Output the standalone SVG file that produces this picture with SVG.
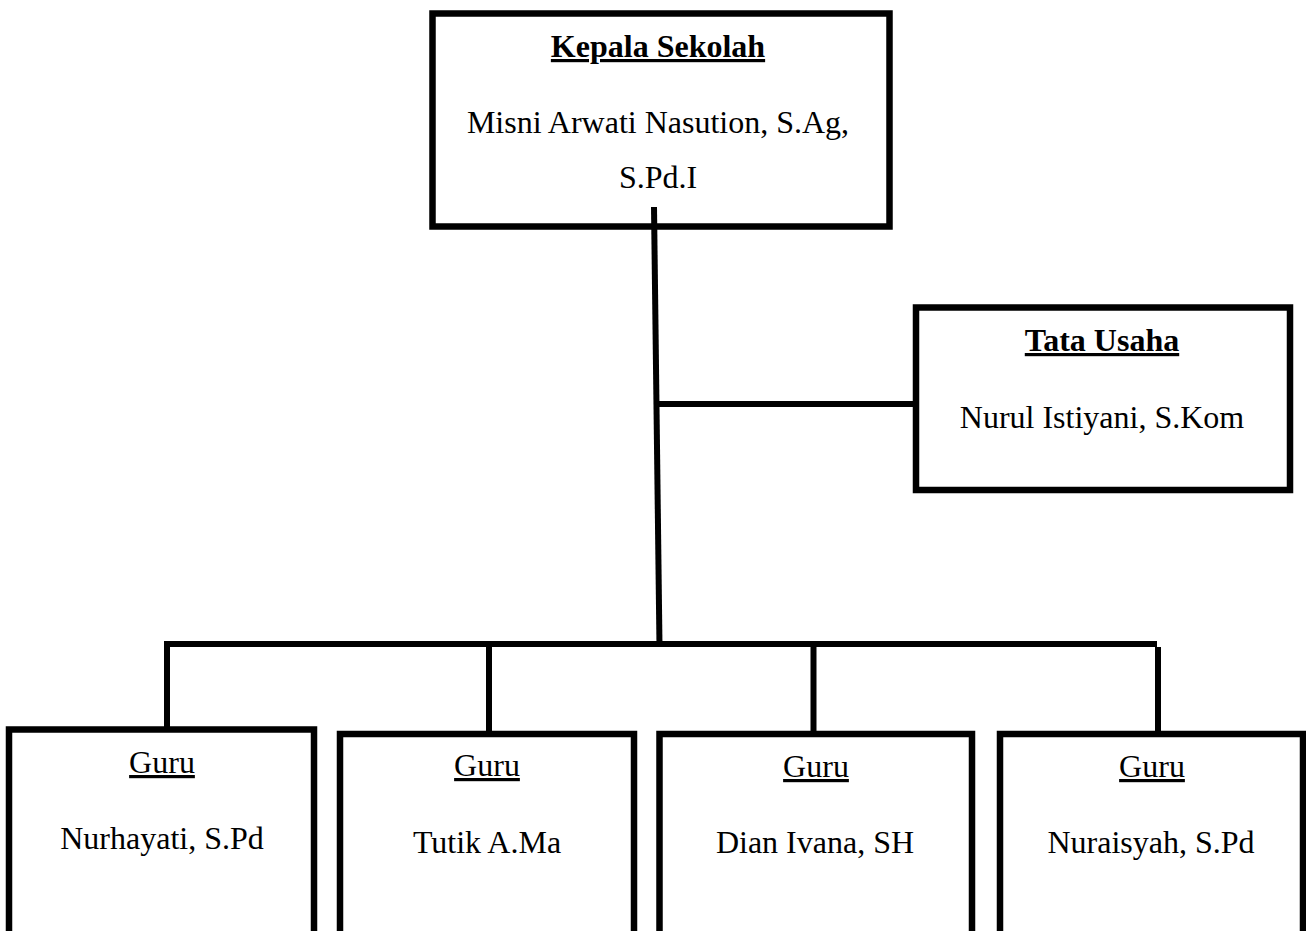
<svg xmlns="http://www.w3.org/2000/svg" width="1306" height="931" viewBox="0 0 1306 931">
<style>
.box{fill:#fff;stroke:#000;stroke-width:6.5}
.ln{stroke:#000;stroke-width:6;fill:none;stroke-linecap:butt}
text{font-family:"Liberation Serif","Times New Roman",serif;font-size:32px;fill:#000;text-anchor:middle}
.t{text-decoration:underline}
.b{font-weight:bold}
</style>
<rect width="1306" height="931" fill="#fff"/>
<g id="kepala">
<rect class="box" x="432.5" y="13.5" width="457" height="213"/>
<text x="658" y="57" class="t b">Kepala Sekolah</text>
<text x="658" y="133">Misni Arwati Nasution, S.Ag,</text>
<text x="658" y="188">S.Pd.I</text>
</g>
<g id="tata-usaha">
<rect class="box" x="916" y="307.5" width="374" height="182.5"/>
<text x="1102" y="351" class="t b">Tata Usaha</text>
<text x="1102" y="428">Nurul Istiyani, S.Kom</text>
</g>
<g id="guru1">
<rect class="box" x="9" y="729.5" width="305" height="220"/>
<text x="162" y="773" class="t">Guru</text>
<text x="162" y="849">Nurhayati, S.Pd</text>
</g>
<g id="guru2">
<rect class="box" x="340" y="734" width="294" height="220"/>
<text x="487" y="776" class="t">Guru</text>
<text x="487" y="853">Tutik A.Ma</text>
</g>
<g id="guru3">
<rect class="box" x="659.5" y="734" width="312.5" height="220"/>
<text x="816" y="777" class="t">Guru</text>
<text x="815" y="853">Dian Ivana, SH</text>
</g>
<g id="guru4">
<rect class="box" x="1000" y="734" width="303" height="220"/>
<text x="1152" y="777" class="t">Guru</text>
<text x="1151" y="853">Nuraisyah, S.Pd</text>
</g>
<g id="connectors">
<line class="ln" x1="654" y1="207" x2="659.5" y2="646"/>
<line class="ln" x1="657" y1="404" x2="913" y2="404"/>
<line class="ln" x1="164" y1="644" x2="1157" y2="644"/>
<line class="ln" x1="167" y1="641" x2="167" y2="727"/>
<line class="ln" x1="489" y1="647" x2="489" y2="731"/>
<line class="ln" x1="813.5" y1="647" x2="813.5" y2="731"/>
<line class="ln" x1="1158" y1="647" x2="1158" y2="731"/>
</g>
</svg>
